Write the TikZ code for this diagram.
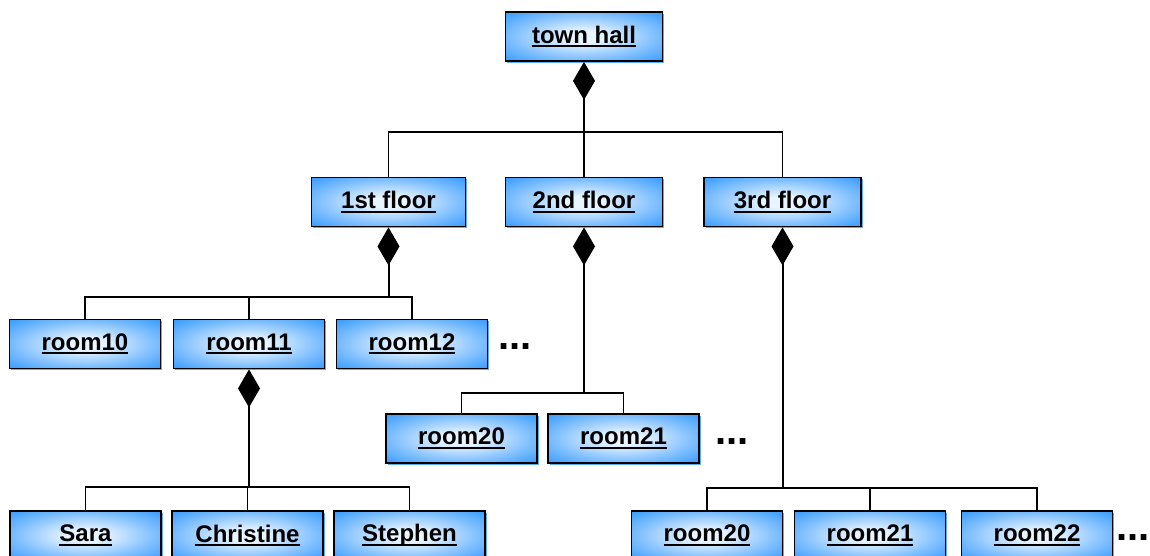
\documentclass[tikz,border=0pt]{standalone}
\usepackage{fontspec}
\setmainfont{Liberation Sans}
\usetikzlibrary{arrows.meta}
\usetikzlibrary{shadows}
\definecolor{boxblue}{RGB}{51,153,255}
\definecolor{boxlight}{RGB}{232,244,255}
\pgfdeclareradialshading{boxshade}{\pgfpoint{0bp}{0bp}}{%
	color(0bp)=(boxlight);
	color(6bp)=(boxlight);
	color(22bp)=(boxblue!60!white);
	color(36bp)=(boxblue);
	color(50bp)=(boxblue)}
\newcommand\objname[1]{\setbox0\hbox{#1}\rlap{\rule[-4pt]{\wd0}{2pt}}\box0}

\begin{document}
\begin{tikzpicture}[x=1pt,y=-1pt,line cap=rect]
	\tikzstyle{obj}=[rectangle,draw=black,line width=1.8pt,inner sep=0pt,
		minimum width=151pt,minimum height=49pt,shading=boxshade,
		drop shadow={shadow xshift=1.5pt,shadow yshift=-1.5pt,fill=boxblue!80,opacity=1},
		font=\fontsize{24}{28}\selectfont\bfseries];
	\tikzstyle{bigobj}=[obj,minimum width=157pt];
	\tikzstyle{link}=[line width=1.3pt];
	\tikzstyle{comp}=[line width=2pt,{Diamond[length=38pt,width=22pt]}-];
	\tikzstyle{more}=[anchor=base west,inner sep=0pt,font=\fontsize{40}{40}\selectfont\bfseries];
	\useasboundingbox (0,0) rectangle (1150,555);
	%% Town hall and floors
	\node[bigobj] (town) at (584,36.5)  {\objname{town hall}};
	\node[bigobj,minimum width=154pt] (f1) at (388.5,202) {\objname{1st floor}};
	\node[bigobj] (f2)   at (584,202)   {\objname{2nd floor}};
	\node[bigobj] (f3)   at (782.5,202) {\objname{3rd floor}};
	%% Rooms of the 1st floor
	\node[obj] (r10) at (85,344)  {\objname{room10}};
	\node[obj] (r11) at (249,344) {\objname{room11}};
	\node[obj] (r12) at (412,344) {\objname{room12}};
	\node[more] (m1) at (498,349) {...};
	%% Rooms of the 2nd floor
	\node[obj] (r20) at (461.5,438.5) {\objname{room20}};
	\node[obj] (r21) at (623.5,438.5) {\objname{room21}};
	\node[more] (m2) at (715,444) {...};
	%% People in room11
	\node[obj] (sara)  at (85.5,535.5)  {\objname{Sara}};
	\node[obj] (chris) at (247.5,535.5) {\objname{Christine}};
	\node[obj] (steph) at (409.5,535.5) {\objname{Stephen}};
	%% Rooms of the 3rd floor
	\node[obj] (s20) at (707,535.5)  {\objname{room20}};
	\node[obj] (s21) at (870,535.5)  {\objname{room21}};
	\node[obj] (s22) at (1037,535.5) {\objname{room22}};
	\node[more] (m3) at (1116,540) {...};
	%% Junctions
	\coordinate (jt)  at (town |- 0,132);
	\coordinate (j1)  at (f1 |- 0,297);
	\coordinate (j2)  at (f2 |- 0,393);
	\coordinate (j3)  at (f3 |- 0,488);
	\coordinate (j11) at (r11 |- 0,487);
	%% Compositions
	\draw[comp] (town) -- (jt);
	\foreach \c in {f1,f2,f3} \draw[link] (jt) -| (\c);
	\draw[comp] (f1) -- (j1);
	\foreach \c in {r10,r11,r12} \draw[link] (j1) -| (\c);
	\draw[comp] (f2) -- (j2);
	\foreach \c in {r20,r21} \draw[link] (j2) -| (\c);
	\draw[comp] (f3) -- (j3);
	\foreach \c in {s20,s21,s22} \draw[link] (j3) -| (\c);
	\draw[comp] (r11) -- (j11);
	\foreach \c in {sara,chris,steph} \draw[link] (j11) -| (\c);
\end{tikzpicture}
\end{document}
